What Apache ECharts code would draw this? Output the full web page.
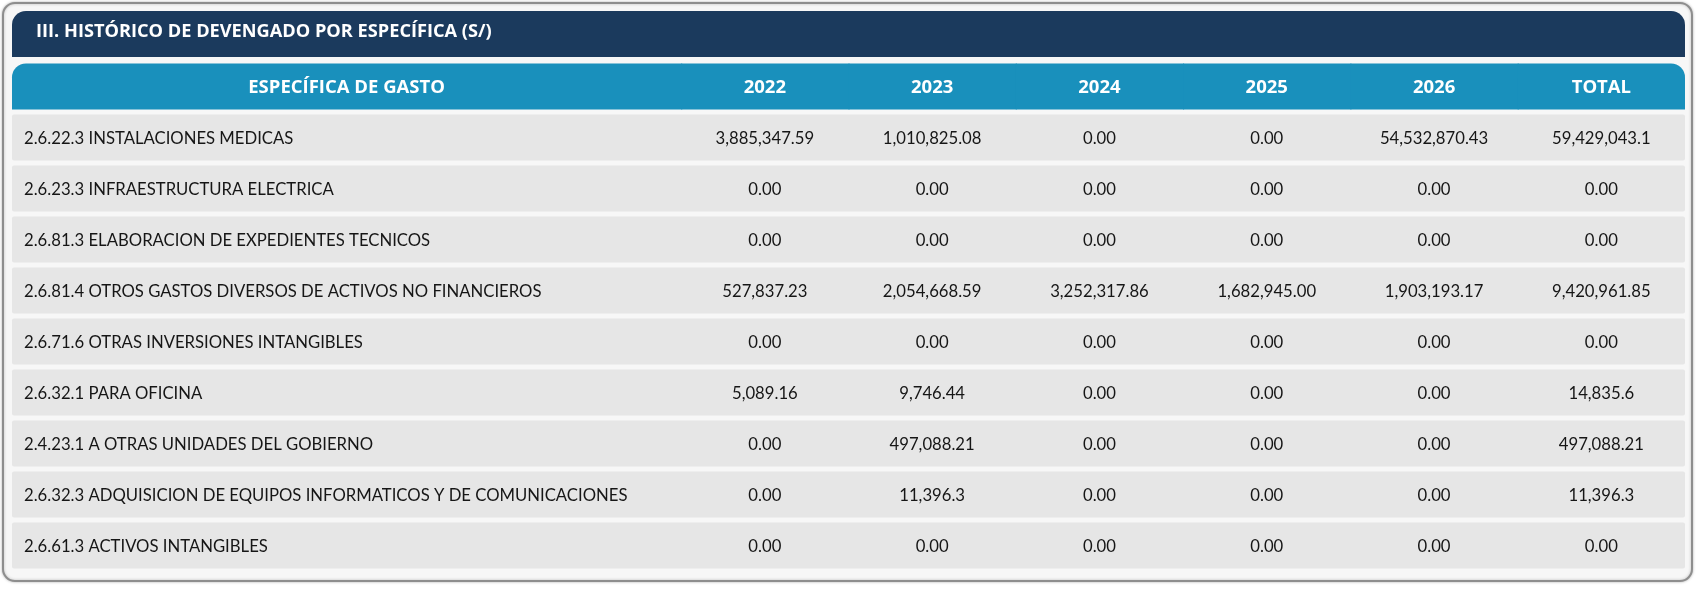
<!DOCTYPE html>
<html>
<head>
<meta charset="utf-8">
<script src="https://cdn.jsdelivr.net/npm/echarts@6/dist/echarts.min.js"></script>
<style>
  html, body { margin: 0; padding: 0; background: #fff; }
  #main { width: 1700px; height: 589px; }
</style>
</head>
<body>
<div id="main"></div>
<script>
// datos de la tabla
var tituloTabla = 'III. HISTÓRICO DE DEVENGADO POR ESPECÍFICA (S/)';
var columnas = ['ESPECÍFICA DE GASTO', '2022', '2023', '2024', '2025', '2026', 'TOTAL'];
var especificas = [
    '2.6.22.3 INSTALACIONES MEDICAS',
    '2.6.23.3 INFRAESTRUCTURA ELECTRICA',
    '2.6.81.3 ELABORACION DE EXPEDIENTES TECNICOS',
    '2.6.81.4 OTROS GASTOS DIVERSOS DE ACTIVOS NO FINANCIEROS',
    '2.6.71.6 OTRAS INVERSIONES INTANGIBLES',
    '2.6.32.1 PARA OFICINA',
    '2.4.23.1 A OTRAS UNIDADES DEL GOBIERNO',
    '2.6.32.3 ADQUISICION DE EQUIPOS INFORMATICOS Y DE COMUNICACIONES',
    '2.6.61.3 ACTIVOS INTANGIBLES'
];
var v2022 = ['3,885,347.59', '0.00', '0.00', '527,837.23', '0.00', '5,089.16', '0.00', '0.00', '0.00'];
var v2023 = ['1,010,825.08', '0.00', '0.00', '2,054,668.59', '0.00', '9,746.44', '497,088.21', '11,396.3', '0.00'];
var v2024 = ['0.00', '0.00', '0.00', '3,252,317.86', '0.00', '0.00', '0.00', '0.00', '0.00'];
var v2025 = ['0.00', '0.00', '0.00', '1,682,945.00', '0.00', '0.00', '0.00', '0.00', '0.00'];
var v2026 = ['54,532,870.43', '0.00', '0.00', '1,903,193.17', '0.00', '0.00', '0.00', '0.00', '0.00'];
var vTotal = ['59,429,043.1', '0.00', '0.00', '9,420,961.85', '0.00', '14,835.6', '497,088.21', '11,396.3', '0.00'];

(function(){
    var myChart = echarts.init(document.getElementById('main'));

    // ancho de columnas en unidades del eje x (la primera ocupa 4)
    var colStart = [0, 4, 5, 6, 7, 8, 9];
    var colWidth = [4, 1, 1, 1, 1, 1, 1];
    var filas = ['HEADER'].concat(especificas);
    var valores = [v2022, v2023, v2024, v2025, v2026, vTotal];

    var headerData = columnas.map(function(c, i){ return [i, 'HEADER', c]; });
    var fondoData = especificas.map(function(e){ return [0, e]; });
    var celdaData = [];
    especificas.forEach(function(e, r){
        celdaData.push([0, e, e]);
        valores.forEach(function(col, c){
            celdaData.push([c + 1, e, col[r]]);
        });
    });

    var FONT = 'Lato, "Noto Sans", sans-serif';
    var FONT_HEAD = '"Open Sans", Lato, sans-serif';
    var CELL_H = 46;

    function headerItem(params, api){
        var c = api.value(0);
        var p0 = api.coord([colStart[c], api.value(1)]);
        var p1 = api.coord([colStart[c] + colWidth[c], api.value(1)]);
        var r = [0, 0, 0, 0];
        if (c === 0) r = [14, 0, 0, 0];
        if (c === columnas.length - 1) r = [0, 14, 0, 0];
        return {
            type: 'group',
            children: [{
                type: 'rect',
                shape: { x: p0[0], y: p0[1] - CELL_H / 2, width: p1[0] - p0[0] + (c < columnas.length - 1 ? 1 : 0), height: CELL_H, r: r },
                style: { fill: '#1990bc' }
            }, {
                type: 'text',
                style: {
                    x: (p0[0] + p1[0]) / 2, y: p0[1] + 1,
                    text: api.value(2), fill: '#fff', align: 'center', verticalAlign: 'middle',
                    font: 'bold 18.5px ' + FONT_HEAD
                }
            }]
        };
    }

    function fondoItem(params, api){
        var p0 = api.coord([0, api.value(1)]);
        var p1 = api.coord([10, api.value(1)]);
        return {
            type: 'rect',
            shape: { x: p0[0], y: p0[1] - CELL_H / 2, width: p1[0] - p0[0], height: CELL_H, r: 2 },
            style: { fill: '#e6e6e6' }
        };
    }

    function celdaItem(params, api){
        var c = api.value(0);
        var p0 = api.coord([colStart[c], api.value(1)]);
        var p1 = api.coord([colStart[c] + colWidth[c], api.value(1)]);
        var izq = c === 0;
        return {
            type: 'text',
            style: {
                x: izq ? p0[0] + 12 : (p0[0] + p1[0]) / 2, y: p0[1] + 1,
                text: api.value(2), fill: '#161616',
                align: izq ? 'left' : 'center', verticalAlign: 'middle',
                font: '16.7px ' + FONT
            }
        };
    }

    var option = {
        animation: false,
        title: {
            text: tituloTabla,
            left: 36,
            top: 23,
            padding: 0,
            textStyle: { color: '#fff', fontSize: 18.2, fontWeight: 'bold', fontFamily: FONT_HEAD }
        },
        graphic: [{
            type: 'rect', z: -10,
            shape: { x: 3, y: 3, width: 1689, height: 578, r: 12 },
            style: { fill: '#f7f7f7', stroke: '#8e8e8e', lineWidth: 2, shadowBlur: 3, shadowColor: 'rgba(0,0,0,0.25)' }
        }, {
            type: 'rect', z: -9,
            shape: { x: 12, y: 11, width: 1673, height: 46, r: [14, 14, 0, 0] },
            style: { fill: '#1b3a5d' }
        }],
        grid: { left: 12, right: 15, top: 61, bottom: 18 },
        xAxis: { type: 'value', min: 0, max: 10, show: false },
        yAxis: { type: 'category', data: filas, inverse: true, show: false },
        series: [
            { type: 'custom', name: 'header', data: headerData, renderItem: headerItem, encode: { x: 0, y: 1 } },
            { type: 'custom', name: 'fondo', data: fondoData, renderItem: fondoItem, encode: { x: 0, y: 1 } },
            { type: 'custom', name: 'celdas', data: celdaData, renderItem: celdaItem, encode: { x: 0, y: 1 }, z: 3 }
        ]
    };
    myChart.setOption(option);
})();
</script>
</body>
</html>
